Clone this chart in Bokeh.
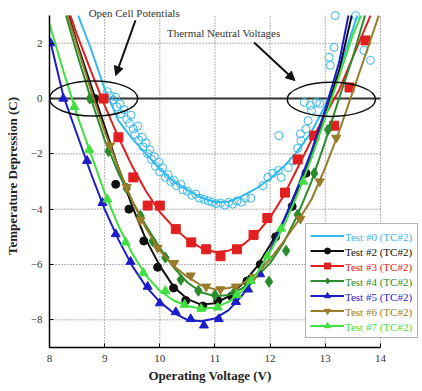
from bokeh.plotting import figure
from bokeh.models import (Range1d, FixedTicker, Legend, LegendItem, Label, Arrow,
                          NormalHead, Title)
from bokeh.embed import file_html
from bokeh.resources import INLINE

# ---------------- data ----------------
x_ticks = [8, 9, 10, 11, 12, 13, 14]
y_ticks = [-8, -6, -4, -2, 0, 2]
x_lim = [8, 14]
y_lim = [-9, 3]

labels = ["Test #0 (TC#2)", "Test #2 (TC#2)", "Test #3 (TC#2)", "Test #4 (TC#2)",
          "Test #5 (TC#2)", "Test #6 (TC#2)", "Test #7 (TC#2)"]

# fitted curves
fit0_x = [8.52, 8.75, 9.0, 9.25, 9.5, 9.75, 10.0, 10.25, 10.5, 10.75, 11.0, 11.25, 11.5,
          11.75, 12.0, 12.25, 12.5, 12.75, 13.0, 13.25, 13.58]
fit0_y = [3.0, 1.8, 0.35, -0.8, -1.45, -2.0, -2.55, -3.0, -3.3, -3.58, -3.75, -3.72, -3.52,
          -3.25, -2.9, -2.45, -1.9, -1.2, -0.25, 1.0, 3.0]

fit2_x = [8.35, 8.5, 8.75, 9.0, 9.25, 9.5, 9.75, 10.0, 10.25, 10.5, 10.75, 11.0, 11.25, 11.5,
          11.75, 12.0, 12.25, 12.5, 12.75, 13.0, 13.25, 13.48]
fit2_y = [3.0, 2.0, 0.5, -1.0, -2.5, -3.9, -5.1, -6.05, -6.8, -7.25, -7.45, -7.4, -7.15, -6.7,
          -6.1, -5.3, -4.4, -3.3, -2.1, -0.6, 1.0, 3.0]

fit3_x = [8.38, 8.5, 8.75, 9.0, 9.25, 9.5, 9.75, 10.0, 10.25, 10.5, 10.75, 11.0, 11.25, 11.5,
          11.75, 12.0, 12.25, 12.5, 12.75, 13.0, 13.25, 13.5, 13.82]
fit3_y = [3.0, 2.3, 1.0, -0.25, -1.4, -2.45, -3.35, -4.1, -4.65, -5.1, -5.4, -5.55, -5.5, -5.3,
          -4.9, -4.3, -3.5, -2.5, -1.5, -0.6, 0.3, 1.5, 3.0]

fit4_x = [8.3, 8.5, 8.75, 9.0, 9.25, 9.5, 9.75, 10.0, 10.25, 10.5, 10.75, 11.0, 11.25, 11.5,
          11.75, 12.0, 12.25, 12.5, 12.75, 13.0, 13.25, 13.5, 13.72]
fit4_y = [3.0, 1.6, 0.0, -1.5, -2.7, -3.7, -4.6, -5.4, -6.1, -6.65, -7.0, -7.15, -7.1, -6.85,
          -6.45, -5.95, -5.2, -4.2, -3.0, -1.55, 0.0, 1.5, 3.0]

fit5_x = [8.0, 8.25, 8.5, 8.75, 9.0, 9.25, 9.5, 9.75, 10.0, 10.25, 10.5, 10.75, 11.0, 11.25,
          11.5, 11.75, 12.0, 12.25, 12.5, 12.75, 13.0, 13.25, 13.42]
fit5_y = [2.2, 0.1, -1.3, -2.7, -4.0, -5.1, -6.05, -6.8, -7.35, -7.75, -8.0, -8.05, -7.95,
          -7.65, -7.1, -6.4, -5.5, -4.4, -3.2, -1.9, -0.4, 1.3, 3.0]

fit6_x = [8.33, 8.5, 8.75, 9.0, 9.25, 9.5, 9.75, 10.0, 10.25, 10.5, 10.75, 11.0, 11.25, 11.5,
          11.75, 12.0, 12.25, 12.5, 12.75, 13.0, 13.25, 13.5, 13.75, 13.97]
fit6_y = [3.0, 1.9, 0.3, -1.2, -2.5, -3.7, -4.7, -5.5, -6.05, -6.45, -6.75, -6.9, -6.85, -6.7,
          -6.35, -5.8, -5.15, -4.45, -3.65, -2.5, -1.2, 0.25, 1.7, 3.0]

fit7_x = [8.0, 8.25, 8.5, 8.75, 9.0, 9.25, 9.5, 9.75, 10.0, 10.25, 10.5, 10.75, 11.0, 11.25,
          11.5, 11.75, 12.0, 12.25, 12.5, 12.75, 13.0, 13.25, 13.5, 13.65]
fit7_y = [2.7, 1.0, -0.6, -2.0, -3.4, -4.6, -5.6, -6.4, -6.95, -7.3, -7.5, -7.6, -7.55, -7.35,
          -6.95, -6.35, -5.55, -4.6, -3.45, -2.15, -0.7, 0.8, 2.3, 3.0]

# measured points
pts0_x = [9.05, 9.1, 9.15, 9.2, 9.22, 9.28, 9.3, 9.35, 9.4, 9.45, 9.48, 9.52, 9.55, 9.6, 9.62,
          9.68, 9.7, 9.75, 9.78, 9.82, 9.85, 9.9, 9.92, 9.98, 10.0, 10.05, 10.1, 10.15, 10.2,
          10.25, 10.3, 10.38, 10.42, 10.5, 10.58, 10.65, 10.72, 10.8, 10.88, 10.95, 11.02,
          11.1, 11.18, 11.25, 11.32, 11.4, 11.48, 11.55, 11.65, 11.87, 11.96, 12.05, 12.15,
          12.2, 12.33, 12.42, 12.16, 12.5, 12.56, 12.65, 12.69, 12.75, 12.62, 12.84, 12.73,
          12.9, 12.55, 13.07, 13.09, 13.16, 13.18, 13.55, 13.82, 13.7]
pts0_y = [0.25, 0.1, -0.05, 0.05, -0.3, -0.2, -0.55, -0.4, -0.75, -0.9, -0.6, -1.1, -1.3, -1.0,
          -1.5, -1.4, -1.75, -1.6, -2.0, -1.85, -2.2, -2.1, -2.45, -2.3, -2.65, -2.5, -2.85,
          -2.75, -3.0, -2.95, -3.15, -3.1, -3.3, -3.35, -3.5, -3.45, -3.6, -3.65, -3.7, -3.75,
          -3.8, -3.78, -3.85, -3.75, -3.82, -3.7, -3.75, -3.6, -3.6, -3.15, -2.85, -2.7, -2.6,
          -2.85, -2.5, -2.25, -1.34, -1.8, -1.52, -1.1, -0.8, -0.43, -0.14, -0.14, -0.25,
          -0.18, -1.28, 1.49, 1.2, 1.85, 3.0, 3.0, 1.38, 1.74]

pts2_x = [8.82, 9.2, 9.44, 9.71, 9.96, 10.25, 10.47, 10.78, 11.05, 11.3, 11.58, 11.82, 12.1,
          12.4, 12.65]
pts2_y = [0.0, -3.1, -4.0, -5.15, -6.1, -6.85, -7.3, -7.5, -7.3, -7.15, -6.6, -6.0, -5.0,
          -3.9, -2.7]

pts3_x = [8.98, 9.25, 9.52, 9.78, 10.0, 10.29, 10.57, 10.84, 11.1, 11.4, 11.7, 11.95, 12.27,
          12.5, 12.8, 13.16, 13.44, 13.73]
pts3_y = [0.0, -1.4, -2.85, -3.87, -3.87, -4.72, -5.2, -5.45, -5.7, -5.45, -4.93, -4.32,
          -3.4, -2.2, -1.34, -0.98, 0.4, 2.1]

pts4_x = [8.73, 9.07, 9.4, 9.65, 9.87, 10.1, 10.38, 10.7, 11.0, 11.35, 11.6, 11.98, 12.29,
          12.5, 12.8, 13.05]
pts4_y = [0.0, -1.9, -3.25, -4.24, -5.15, -5.75, -6.55, -6.95, -7.1, -7.0, -6.65, -6.62,
          -5.5, -4.2, -2.7, -1.13]

pts5_x = [8.02, 8.25, 8.68, 8.96, 9.2, 9.47, 9.78, 10.0, 10.29, 10.56, 10.8, 11.07, 11.38,
          11.6, 11.82]
pts5_y = [2.0, 0.0, -2.25, -3.77, -4.9, -5.9, -6.8, -7.4, -7.72, -7.97, -8.2, -7.97, -7.35,
          -6.9, -6.35]

pts6_x = [9.1, 9.4, 9.65, 9.96, 10.26, 10.56, 10.84, 11.1, 11.38, 11.7, 12.55, 12.9, 13.2]
pts6_y = [-1.7, -3.2, -4.4, -5.4, -5.95, -6.4, -6.8, -6.9, -6.8, -6.45, -4.35, -3.0, -1.42]

pts7_x = [8.45, 8.72, 9.05, 9.38, 9.7, 10.1, 10.45, 10.75, 11.05, 11.4, 11.65, 11.95, 12.2,
          12.6]
pts7_y = [-0.3, -1.85, -3.65, -5.2, -6.3, -6.95, -7.45, -7.6, -7.55, -7.1, -6.6, -5.7, -4.7,
          -3.0]

# annotation ellipses (open cell / thermal neutral regions)
ell_x = [8.8, 13.11]
ell_y = [0.0, -0.03]
ell_w = [1.6, 1.6]
ell_h = [1.27, 1.23]

# ---------------- styles ----------------
colors = ["#33b9ec", "#111111", "#e02020", "#2a8c2a", "#1c1cc8", "#9a7b2a", "#3fe03f"]
markers = [None, "circle", "square", "diamond", "triangle", "inverted_triangle", "triangle"]
msizes = [0, 8, 9, 11, 9, 9, 9]
SERIF = "Liberation Serif"

# frame extended to the right/top (beyond the data axes) so that the legend and the
# top annotation, which stick out of the axes box, are not clipped
p = figure(width=422, height=391, x_range=Range1d(8, 14.745), y_range=Range1d(-9, 3.4),
           output_backend="svg", toolbar_location=None,
           min_border_left=49, min_border_right=1, min_border_top=4, min_border_bottom=44)
p.outline_line_color = None
p.background_fill_color = "white"
p.xgrid.visible = False
p.ygrid.visible = False

p.xaxis.ticker = FixedTicker(ticks=x_ticks)
p.yaxis.ticker = FixedTicker(ticks=y_ticks)
p.xaxis.bounds = tuple(x_lim)
p.yaxis.bounds = tuple(y_lim)
for ax in (p.xaxis[0], p.yaxis[0]):
    ax.axis_line_color = "black"
    ax.axis_line_width = 1.5
    ax.major_tick_out = 0
    ax.major_tick_in = 4
    ax.minor_tick_line_color = None
    ax.major_label_text_font = SERIF
    ax.major_label_text_font_size = "11px"
    ax.major_label_text_color = "#333333"
    ax.axis_label_text_font = SERIF
    ax.axis_label_text_font_size = "13px"
    ax.axis_label_text_font_style = "bold"
    ax.axis_label_text_color = "#222222"
p.yaxis.axis_label = "Temperature Depression (C)"
p.xaxis.major_label_standoff = 7
p.yaxis.major_label_standoff = 7
p.yaxis.axis_label_standoff = 8

p.add_layout(Title(text="Operating Voltage (V)", align="left", offset=99,
                   text_font=SERIF, text_font_size="13px", text_font_style="bold",
                   text_color="#222222", standoff=2), "below")

# dotted grid limited to the axes box
p.segment(x0=x_ticks, y0=[y_lim[0]] * len(x_ticks), x1=x_ticks, y1=[y_lim[1]] * len(x_ticks),
          line_color="#666666", line_dash="1 2", line_width=1)
p.segment(x0=[x_lim[0]] * len(y_ticks), y0=y_ticks, x1=[x_lim[1]] * len(y_ticks), y1=y_ticks,
          line_color="#666666", line_dash="1 2", line_width=1)
# zero line
p.line(x=x_lim, y=[0, 0], line_color="#333333", line_width=2)

fits = [(fit0_x, fit0_y), (fit2_x, fit2_y), (fit3_x, fit3_y), (fit4_x, fit4_y),
        (fit5_x, fit5_y), (fit6_x, fit6_y), (fit7_x, fit7_y)]
pts = [(pts0_x, pts0_y), (pts2_x, pts2_y), (pts3_x, pts3_y), (pts4_x, pts4_y),
       (pts5_x, pts5_y), (pts6_x, pts6_y), (pts7_x, pts7_y)]

# cyan open circles first (background)
p.scatter(pts0_x, pts0_y, marker="circle", size=8, fill_alpha=0,
          line_color=colors[0], line_width=1)

legend_items = []
dummy_items = []
for i in range(7):
    fx, fy = fits[i]
    lr = p.line(fx, fy, line_color=colors[i], line_width=2)
    rends = [lr]
    if i > 0:
        px_, py_ = pts[i]
        sr = p.scatter(px_, py_, marker=markers[i], size=msizes[i],
                       fill_color=colors[i], line_color=colors[i])
        rends.append(sr)
    legend_items.append(LegendItem(label=labels[i], renderers=rends))
    dr = p.line([], [], line_alpha=0)
    dummy_items.append(LegendItem(label=labels[i], renderers=[dr]))

p.ellipse(x=ell_x, y=ell_y, width=ell_w, height=ell_h, fill_alpha=0,
          line_color="#111111", line_width=1.5)

p.add_layout(Arrow(end=NormalHead(size=9, fill_color="#111111", line_color="#111111"),
                   x_start=9.56, y_start=2.83, x_end=9.2, y_end=0.83,
                   line_color="#111111", line_width=2))
p.add_layout(Arrow(end=NormalHead(size=9, fill_color="#111111", line_color="#111111"),
                   x_start=11.71, y_start=2.03, x_end=12.45, y_end=0.65,
                   line_color="#111111", line_width=2))
p.add_layout(Label(x=8.71, y=3.08, text="Open Cell Potentials", text_font=SERIF,
                   text_font_size="11px", text_baseline="middle", text_color="#333333"))
p.add_layout(Label(x=10.13, y=2.36, text="Thermal Neutral Voltages", text_font=SERIF,
                   text_font_size="11px", text_baseline="middle", text_color="#333333"))

LX, LY, ROW = 256, 9, 15
common = dict(label_text_font=SERIF, label_text_font_size="11px", glyph_width=34,
              glyph_height=ROW, label_height=ROW, spacing=0, padding=4, margin=0,
              label_standoff=2, border_line_width=1)
big = Legend(items=legend_items, location=(LX, LY), label_text_alpha=0,
             border_line_color="#666666", background_fill_color="white",
             background_fill_alpha=1, **common)
p.add_layout(big)
for i in range(7):
    lg = Legend(items=[dummy_items[i]], location=(LX, LY + (6 - i) * ROW),
                label_text_color=colors[i], border_line_alpha=0,
                background_fill_alpha=0, **common)
    p.add_layout(lg)

open("out.html", "w").write(file_html(p, INLINE))
